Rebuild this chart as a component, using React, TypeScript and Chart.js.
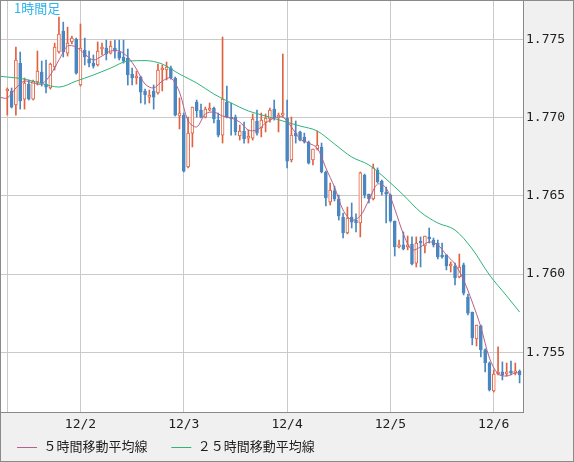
import React, { useEffect, useRef } from 'react';
import { Chart, registerables } from 'chart.js';

Chart.register(...registerables);

// ---------- data ----------
const timeframeLabel = '1時間足';
const ma5Label = '５時間移動平均線';
const ma25Label = '２５時間移動平均線';

const xTickIdx = [0, 17, 41, 65, 89, 113];
const xTickLabels = ['', '12/2', '12/3', '12/4', '12/5', '12/6'];
const yTickValues = [1.755, 1.76, 1.765, 1.77, 1.775];

const opens = [
  1.77170, 1.77170, 1.77080, 1.77348, 1.77118, 1.77214, 1.77118, 1.77227, 1.77291, 1.77214,
  1.77189, 1.77323, 1.77419, 1.77553, 1.77412, 1.77483, 1.77502, 1.77208, 1.77432, 1.77374,
  1.77348, 1.77336, 1.77438, 1.77444, 1.77412, 1.77444, 1.77419, 1.77387, 1.77380, 1.77278,
  1.77253, 1.77259, 1.77170, 1.77131, 1.77170, 1.77157, 1.77304, 1.77304, 1.77316, 1.77253,
  1.77010, 1.77016, 1.76684, 1.76901, 1.77099, 1.77048, 1.77003, 1.77048, 1.77061, 1.76984,
  1.76888, 1.77099, 1.77003, 1.77003, 1.76882, 1.76914, 1.76869, 1.76869, 1.76978, 1.76933,
  1.76971, 1.76991, 1.77054, 1.76997, 1.77016, 1.76997, 1.76729, 1.76901, 1.76908, 1.76876,
  1.76844, 1.76729, 1.76799, 1.76812, 1.76652, 1.76460, 1.76531, 1.76480, 1.76364, 1.76262,
  1.76364, 1.76345, 1.76326, 1.76633, 1.76511, 1.76480, 1.76665, 1.76594, 1.76518, 1.76505,
  1.76339, 1.76173, 1.76186, 1.76173, 1.76192, 1.76070, 1.76205, 1.76179, 1.76237, 1.76217,
  1.76198, 1.76115, 1.76122, 1.76051, 1.76051, 1.75981, 1.76058, 1.75853, 1.75757, 1.75585,
  1.75668, 1.75515, 1.75431, 1.75252, 1.75361, 1.75374, 1.75361, 1.75374, 1.75368, 1.75380,
];
const highs = [
  1.77189, 1.77189, 1.77451, 1.77419, 1.77253, 1.77240, 1.77240, 1.77425, 1.77361, 1.77368,
  1.77348, 1.77476, 1.77642, 1.77610, 1.77578, 1.77521, 1.77508, 1.77598, 1.77508, 1.77425,
  1.77400, 1.77483, 1.77476, 1.77495, 1.77489, 1.77495, 1.77495, 1.77495, 1.77438, 1.77316,
  1.77297, 1.77265, 1.77182, 1.77176, 1.77208, 1.77342, 1.77336, 1.77355, 1.77329, 1.77259,
  1.77125, 1.77029, 1.77003, 1.77067, 1.77112, 1.77086, 1.77067, 1.77093, 1.77067, 1.77029,
  1.77515, 1.77201, 1.77093, 1.77016, 1.76952, 1.76971, 1.76920, 1.77023, 1.77048, 1.77029,
  1.77023, 1.77061, 1.77112, 1.77029, 1.77406, 1.77112, 1.77003, 1.76978, 1.76914, 1.76901,
  1.76850, 1.76799, 1.76914, 1.76837, 1.76658, 1.76582, 1.76562, 1.76505, 1.76390, 1.76428,
  1.76454, 1.76384, 1.76652, 1.76639, 1.76511, 1.76703, 1.76678, 1.76601, 1.76556, 1.76511,
  1.76339, 1.76217, 1.76269, 1.76243, 1.76237, 1.76237, 1.76237, 1.76243, 1.76294, 1.76230,
  1.76217, 1.76198, 1.76122, 1.76077, 1.76070, 1.76128, 1.76070, 1.75872, 1.75757, 1.75674,
  1.75674, 1.75521, 1.75438, 1.75387, 1.75534, 1.75438, 1.75431, 1.75444, 1.75431, 1.75387,
];
const lows = [
  1.77016, 1.77061, 1.77016, 1.77054, 1.77054, 1.77112, 1.77112, 1.77208, 1.77201, 1.77157,
  1.77182, 1.77304, 1.77412, 1.77387, 1.77393, 1.77470, 1.77278, 1.77201, 1.77336, 1.77323,
  1.77316, 1.77329, 1.77400, 1.77368, 1.77406, 1.77380, 1.77368, 1.77348, 1.77208, 1.77208,
  1.77214, 1.77093, 1.77086, 1.77093, 1.77054, 1.77150, 1.77170, 1.77240, 1.77246, 1.77010,
  1.76927, 1.76652, 1.76678, 1.76812, 1.77003, 1.76997, 1.76997, 1.77042, 1.76965, 1.76876,
  1.76837, 1.76997, 1.76888, 1.76888, 1.76856, 1.76837, 1.76837, 1.76856, 1.76888, 1.76876,
  1.76908, 1.76971, 1.76984, 1.76908, 1.77003, 1.76678, 1.76716, 1.76837, 1.76850, 1.76837,
  1.76703, 1.76697, 1.76793, 1.76646, 1.76435, 1.76441, 1.76467, 1.76345, 1.76230, 1.76256,
  1.76294, 1.76269, 1.76237, 1.76486, 1.76454, 1.76473, 1.76582, 1.76505, 1.76326, 1.76332,
  1.76115, 1.76166, 1.76154, 1.76154, 1.76058, 1.76045, 1.76045, 1.76134, 1.76198, 1.76173,
  1.76096, 1.76102, 1.76026, 1.76013, 1.75930, 1.75975, 1.75866, 1.75738, 1.75547, 1.75540,
  1.75470, 1.75374, 1.75252, 1.75246, 1.75355, 1.75323, 1.75348, 1.75355, 1.75355, 1.75304,
];
const closes = [
  1.77182, 1.77067, 1.77368, 1.77106, 1.77221, 1.77118, 1.77233, 1.77297, 1.77221, 1.77195,
  1.77342, 1.77451, 1.77534, 1.77419, 1.77476, 1.77508, 1.77284, 1.77444, 1.77387, 1.77348,
  1.77329, 1.77425, 1.77451, 1.77406, 1.77457, 1.77425, 1.77380, 1.77361, 1.77272, 1.77253,
  1.77265, 1.77163, 1.77144, 1.77144, 1.77131, 1.77304, 1.77316, 1.77323, 1.77253, 1.77016,
  1.77029, 1.76658, 1.76901, 1.77067, 1.77042, 1.77003, 1.77054, 1.77061, 1.76991, 1.76888,
  1.77118, 1.77003, 1.76991, 1.76908, 1.76914, 1.76863, 1.76882, 1.76991, 1.76901, 1.76984,
  1.76997, 1.77048, 1.76997, 1.77016, 1.77029, 1.76722, 1.76888, 1.76882, 1.76856, 1.76844,
  1.76709, 1.76799, 1.76824, 1.76652, 1.76486, 1.76537, 1.76480, 1.76371, 1.76262, 1.76358,
  1.76332, 1.76326, 1.76646, 1.76505, 1.76480, 1.76678, 1.76588, 1.76524, 1.76511, 1.76339,
  1.76173, 1.76179, 1.76160, 1.76186, 1.76064, 1.76198, 1.76198, 1.76243, 1.76224, 1.76186,
  1.76109, 1.76109, 1.76051, 1.76064, 1.75975, 1.76045, 1.75878, 1.75750, 1.75591, 1.75674,
  1.75515, 1.75431, 1.75259, 1.75361, 1.75368, 1.75355, 1.75374, 1.75368, 1.75374, 1.75355,
];

// moving averages (the lines run in from the left edge)
const ma5Idx = [
  -2, 0, 2, 4, 6, 8, 10, 12, 14, 16, 18, 20, 22, 24, 26, 28, 30, 32, 34, 36, 38,
  40, 42, 44, 46, 48, 50, 52, 54, 56, 58, 60, 62, 64, 66, 68, 70, 72, 74, 76, 78,
  80, 82, 84, 86, 88, 90, 92, 94, 96, 98, 100, 102, 104, 106, 108, 110, 112, 114, 116, 118, 119,
];
const ma5Values = [
  1.77131,
  1.77125, 1.77189, 1.77233, 1.77221, 1.77214, 1.77272, 1.77368, 1.77457, 1.77451, 1.77406,
  1.77368, 1.77393, 1.77425, 1.77425, 1.77387, 1.77310, 1.77214, 1.77189, 1.77233, 1.77253,
  1.77163, 1.76978, 1.76940, 1.77023, 1.77035, 1.77010, 1.76997, 1.76971, 1.76920, 1.76920,
  1.76965, 1.76997, 1.77003, 1.76940, 1.76863, 1.76837, 1.76805, 1.76678, 1.76556, 1.76409,
  1.76345, 1.76371, 1.76473, 1.76575, 1.76550, 1.76416, 1.76256, 1.76154, 1.76173, 1.76205,
  1.76186, 1.76122, 1.76064, 1.75961, 1.75821, 1.75661, 1.75463, 1.75361, 1.75348, 1.75368, 1.75368,
];
const ma25Idx = [
  -2, 0, 4, 8, 12, 16, 20, 24, 28, 32, 36, 40, 44, 48, 52, 56, 60, 64, 68, 72, 76,
  80, 84, 88, 92, 96, 100, 104, 108, 112, 116, 119,
];
const ma25Values = [
  1.77265,
  1.77259, 1.77246, 1.77217, 1.77195, 1.77233, 1.77272, 1.77316, 1.77361, 1.77364, 1.77342,
  1.77278, 1.77221, 1.77150, 1.77093, 1.77042, 1.77010, 1.76978, 1.76946, 1.76914, 1.76831,
  1.76748, 1.76697, 1.76607, 1.76505, 1.76396, 1.76326, 1.76281, 1.76160, 1.75994, 1.75860, 1.75757,
];

// ---------- styles ----------
const UP = '#e0623f';
const DOWN = '#4a87c1';
const MA5_COLOR = '#b4618c';
const MA25_COLOR = '#2fb47a';
const GRID = '#cacaca';
const FRAME = '#8a8a8a';
const OUTER_BG = '#f0f0f0';
const TEXT = '#1e1e1e';
const TITLE_COLOR = '#2fb4ec';
const MONO = "'DejaVu Sans Mono', 'Noto Sans CJK JP', monospace";
const CJK = "'DejaVu Sans Mono', 'Noto Sans CJK JP', sans-serif";

const frameBgPlugin = {
  id: 'frameBg',
  beforeDraw(chart: any) {
    const { ctx, chartArea: a } = chart;
    ctx.save();
    ctx.fillStyle = OUTER_BG;
    ctx.fillRect(0, 0, chart.width, chart.height);
    ctx.fillStyle = '#ffffff';
    ctx.fillRect(a.left, a.top, a.right - a.left, a.bottom - a.top);
    ctx.restore();
  },
  afterDraw(chart: any) {
    const { ctx, chartArea: a } = chart;
    ctx.save();
    ctx.strokeStyle = FRAME;
    ctx.lineWidth = 1;
    ctx.strokeRect(a.left - 0.5, a.top - 0.5, a.right - a.left + 1, a.bottom - a.top + 1);
    ctx.strokeRect(0.5, 0.5, 573, 461);
    ctx.font = "13px 'Noto Sans CJK JP', sans-serif";
    ctx.fillStyle = TITLE_COLOR;
    ctx.textBaseline = 'top';
    ctx.textAlign = 'left';
    ctx.fillText(timeframeLabel, a.left + 13, a.top + 1);
    ctx.restore();
  },
};

const noPadding = (s: any) => {
  s.paddingTop = 0;
  s.paddingBottom = 0;
  s.paddingLeft = 0;
  s.paddingRight = 0;
  // let tick labels overflow the (thin) axis box instead of being clipped
  s._computeLabelArea = () => undefined;
};

export default function App() {
  const ref = useRef<HTMLCanvasElement>(null);

  useEffect(() => {
    const canvas = ref.current;
    if (!canvas) return;
    const idx = opens.map((_, i) => i);
    const isUp = (i: number) => closes[i] >= opens[i];

    const chart = new Chart(canvas, {
      type: 'bar',
      data: {
        datasets: [
          {
            type: 'line',
            label: ma5Label,
            data: ma5Idx.map((x, k) => ({ x, y: ma5Values[k] })),
            borderColor: MA5_COLOR,
            backgroundColor: MA5_COLOR,
            borderWidth: 1,
            pointRadius: 0,
            tension: 0.3,
            order: 0,
          },
          {
            type: 'line',
            label: ma25Label,
            data: ma25Idx.map((x, k) => ({ x, y: ma25Values[k] })),
            borderColor: MA25_COLOR,
            backgroundColor: MA25_COLOR,
            borderWidth: 1,
            pointRadius: 0,
            cubicInterpolationMode: 'monotone',
            order: 0,
          },
          {
            type: 'bar',
            label: 'body',
            data: idx.map((i) => ({ x: i, y: [opens[i], closes[i]] })),
            backgroundColor: (c: any) => (isUp(c.dataIndex) ? '#ffffff' : DOWN),
            borderColor: (c: any) => (isUp(c.dataIndex) ? UP : DOWN),
            borderWidth: 1,
            borderSkipped: false,
            barThickness: 3,
            minBarLength: 2,
            grouped: false,
            order: 1,
          },
          {
            type: 'bar',
            label: 'wick',
            data: idx.map((i) => ({ x: i, y: [lows[i], highs[i]] })),
            backgroundColor: (c: any) => (isUp(c.dataIndex) ? UP : DOWN),
            borderWidth: 0,
            barThickness: 1,
            grouped: false,
            order: 2,
          },
        ] as any,
      },
      options: {
        responsive: false,
        animation: false,
        events: [],
        layout: { padding: { left: 1, top: 1, right: 0, bottom: 0 } },
        plugins: {
          tooltip: { enabled: false },
          legend: {
            display: true,
            position: 'bottom',
            align: 'start',
            labels: {
              boxWidth: 20,
              boxHeight: 1,
              padding: 16,
              color: TEXT,
              font: { family: CJK, size: 13 },
              generateLabels: (ch: any) =>
                ch.data.datasets
                  .map((ds: any, i: number) => ({
                    text: ds.label === ma5Label ? ds.label + ' ' : ds.label,
                    fillStyle: ds.borderColor,
                    strokeStyle: ds.borderColor,
                    lineWidth: 0,
                    hidden: false,
                    datasetIndex: i,
                    fontColor: TEXT,
                    key: ds.label,
                  }))
                  .filter((it: any) => it.key === ma5Label || it.key === ma25Label),
            },
          },
        },
        scales: {
          x: {
            type: 'linear',
            min: -1.46,
            max: 119.79,
            offset: false,
            grid: { color: GRID, lineWidth: 1, drawTicks: false, offset: false },
            border: { display: false },
            ticks: {
              autoSkip: false,
              maxRotation: 0,
              padding: 5,
              color: TEXT,
              font: { family: MONO, size: 13 },
              callback: (v: any) => {
                const k = xTickIdx.indexOf(Number(v));
                return k >= 0 ? xTickLabels[k] : '';
              },
            },
            afterBuildTicks: (s: any) => {
              s.ticks = xTickIdx.map((v) => ({ value: v }));
            },
            afterFit: (s: any) => {
              s.height = 13;
              noPadding(s);
            },
          },
          y: {
            type: 'linear',
            position: 'right',
            min: 1.75118,
            max: 1.77745,
            grid: { color: GRID, lineWidth: 1, drawTicks: false },
            border: { display: false },
            ticks: {
              padding: 3,
              color: TEXT,
              font: { family: MONO, size: 13 },
              callback: (v: any) => Number(v).toFixed(3),
            },
            afterBuildTicks: (s: any) => {
              s.ticks = yTickValues.map((v) => ({ value: v }));
            },
            afterFit: (s: any) => {
              s.width = 51;
              noPadding(s);
            },
          },
        },
      } as any,
      plugins: [frameBgPlugin],
    });
    return () => chart.destroy();
  }, []);

  return (
    <div
      style={{
        position: 'absolute',
        left: 0,
        top: 0,
        width: 574,
        height: 462,
        overflow: 'hidden',
        background: OUTER_BG,
      }}
    >
      <canvas ref={ref} width={574} height={464} style={{ display: 'block', width: 574, height: 464 }} />
    </div>
  );
}
